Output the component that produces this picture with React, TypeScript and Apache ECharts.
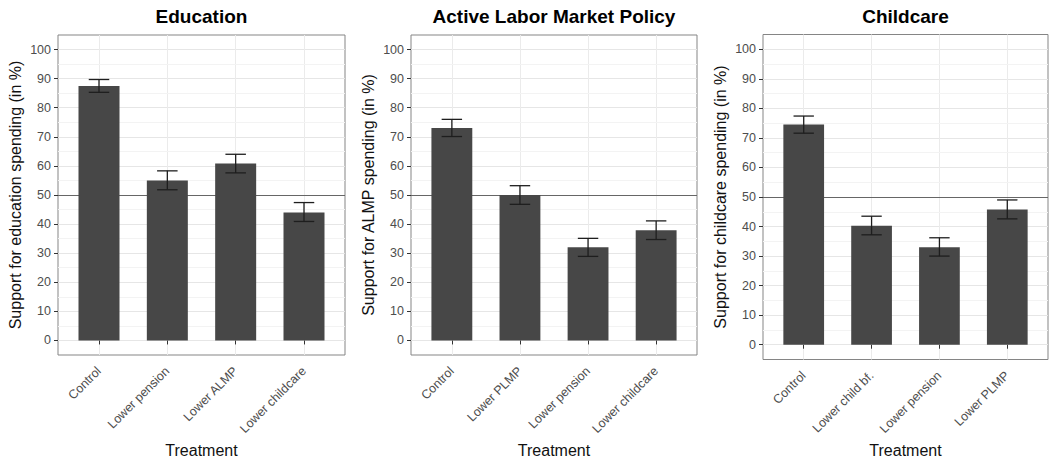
import React, { useEffect, useRef } from "react";
import * as echarts from "echarts";

const eduCategories = ["Control", "Lower pension", "Lower ALMP", "Lower childcare"];
const eduValues = [87.5, 55, 60.8, 44];
const eduLow = [85.3, 51.8, 57.6, 40.9];
const eduHigh = [89.7, 58.3, 64, 47.4];

const almpCategories = ["Control", "Lower PLMP", "Lower pension", "Lower childcare"];
const almpValues = [73, 50, 32, 37.9];
const almpLow = [70.1, 46.8, 28.9, 34.7];
const almpHigh = [76, 53.2, 35.1, 41.1];

const ccCategories = ["Control", "Lower child bf.", "Lower pension", "Lower PLMP"];
const ccValues = [74.5, 40.3, 33, 45.8];
const ccLow = [71.6, 37.2, 30, 42.6];
const ccHigh = [77.4, 43.5, 36.2, 49];

const titles = ["Education", "Active Labor Market Policy", "Childcare"];
const yNames = [
  "Support for education spending (in %)",
  "Support for ALMP spending (in %)",
  "Support for childcare spending (in %)",
];
const xName = "Treatment";
const yTickValues = [0, 10, 20, 30, 40, 50, 60, 70, 80, 90, 100];
const yMinorValues = [5, 15, 25, 35, 45, 55, 65, 75, 85, 95];
const refLine = 50;

const FONT = "'Liberation Sans', Arial, Helvetica, sans-serif";

export default function App() {
  const ref = useRef<HTMLDivElement>(null);
  useEffect(() => {
    document.body.style.margin = "0";
    if (!ref.current) return;
    const chart = echarts.init(ref.current, null, { renderer: "svg" });

    const panels = [
      { cats: eduCategories, vals: eduValues, lo: eduLow, hi: eduHigh, left: 58, width: 287, top: 35, height: 320, nameGapX: 84 },
      { cats: almpCategories, vals: almpValues, lo: almpLow, hi: almpHigh, left: 411, width: 286, top: 35, height: 320, nameGapX: 84 },
      { cats: ccCategories, vals: ccValues, lo: ccLow, hi: ccHigh, left: 763, width: 285, top: 34.5, height: 325, nameGapX: 78 },
    ];

    const grid: any[] = [];
    const xAxis: any[] = [];
    const yAxis: any[] = [];
    const series: any[] = [];
    const graphic: any[] = [];

    panels.forEach((p, i) => {
      grid.push({
        left: p.left,
        top: p.top,
        width: p.width,
        height: p.height,
        show: true,
        borderColor: "#858585",
        borderWidth: 1,
        backgroundColor: "transparent",
        containLabel: false,
        outerBoundsMode: "none",
      });
      const cats = p.cats;
      xAxis.push({
        type: "value",
        gridIndex: i,
        min: 0.4,
        max: 4.6,
        minInterval: 1,
        maxInterval: 1,
        name: xName,
        nameLocation: "middle",
        nameGap: p.nameGapX,
        nameTextStyle: { fontFamily: FONT, fontSize: 16, color: "#111", verticalAlign: "top" },
        axisLine: { show: false },
        axisTick: { show: true, length: 4, customValues: [1, 2, 3, 4], lineStyle: { color: "#333", width: 1 } },
        axisLabel: {
          show: true,
          customValues: [1, 2, 3, 4],
          rotate: 45,
          margin: 14,
          fontFamily: FONT,
          fontSize: 12.5,
          color: "#4D4D4D",
          hideOverlap: false,
          formatter: (v: number) => (Number.isInteger(v) && v >= 1 && v <= 4 ? cats[v - 1] : ""),
        },
        splitLine: { show: true, lineStyle: { color: "#EBEBEB", width: 1 } },
      });
      yAxis.push({
        type: "value",
        gridIndex: i,
        min: -5,
        max: 105,
        name: yNames[i],
        nameLocation: "middle",
        nameGap: 35,
        nameTextStyle: { fontFamily: FONT, fontSize: 16, color: "#111" },
        axisLine: { show: false },
        axisTick: { show: true, length: 4, customValues: yTickValues, lineStyle: { color: "#333", width: 1 } },
        axisLabel: {
          show: true,
          customValues: yTickValues,
          margin: 7,
          fontFamily: FONT,
          fontSize: 12.5,
          color: "#4D4D4D",
          formatter: (v: number) => (v >= 0 && v <= 100 && v % 10 === 0 ? String(v) : ""),
        },
        splitLine: { show: true, lineStyle: { color: "#E6E6E6", width: 1 } },
      });
      const barW = (0.6 * p.width) / 4.2;
      series.push({
        type: "bar",
        xAxisIndex: i,
        yAxisIndex: i,
        data: p.vals.map((v, k) => [k + 1, v]),
        barWidth: barW,
        itemStyle: { color: "#474747" },
        z: 2,
        markLine: {
          silent: true,
          symbol: "none",
          z: 1,
          label: { show: false },
          data: [
            ...yMinorValues.map((v) => ({ yAxis: v, lineStyle: { color: "#F3F3F3", width: 1, type: "solid" } })),
            { yAxis: refLine, lineStyle: { color: "#666666", width: 1.2, type: "solid" } },
          ],
        },
      });
      series.push({
        type: "custom",
        xAxisIndex: i,
        yAxisIndex: i,
        z: 3,
        data: p.vals.map((_, k) => [k + 1, p.lo[k], p.hi[k]]),
        renderItem: (params: any, api: any) => {
          const x = api.value(0);
          const lo = api.value(1);
          const hi = api.value(2);
          const a = api.coord([x - 0.15, hi]);
          const b = api.coord([x + 0.15, hi]);
          const c = api.coord([x - 0.15, lo]);
          const d = api.coord([x + 0.15, lo]);
          const m1 = api.coord([x, hi]);
          const m2 = api.coord([x, lo]);
          const style = { stroke: "#1E1E1E", lineWidth: 1.3 };
          return {
            type: "group",
            children: [
              { type: "line", shape: { x1: a[0], y1: a[1], x2: b[0], y2: b[1] }, style },
              { type: "line", shape: { x1: c[0], y1: c[1], x2: d[0], y2: d[1] }, style },
              { type: "line", shape: { x1: m1[0], y1: m1[1], x2: m2[0], y2: m2[1] }, style },
            ],
          };
        },
      });
      graphic.push({
        type: "text",
        x: p.left + p.width / 2,
        y: 16,
        style: {
          text: titles[i],
          fontFamily: FONT,
          fontSize: 19,
          fontWeight: "bold",
          fill: "#000",
          textAlign: "center",
          textVerticalAlign: "middle",
        },
      });
    });

    chart.setOption({
      animation: false,
      backgroundColor: "#fff",
      grid,
      xAxis,
      yAxis,
      series,
      graphic,
    });
    return () => chart.dispose();
  }, []);
  return <div ref={ref} style={{ width: 1050, height: 458 }} />;
}
